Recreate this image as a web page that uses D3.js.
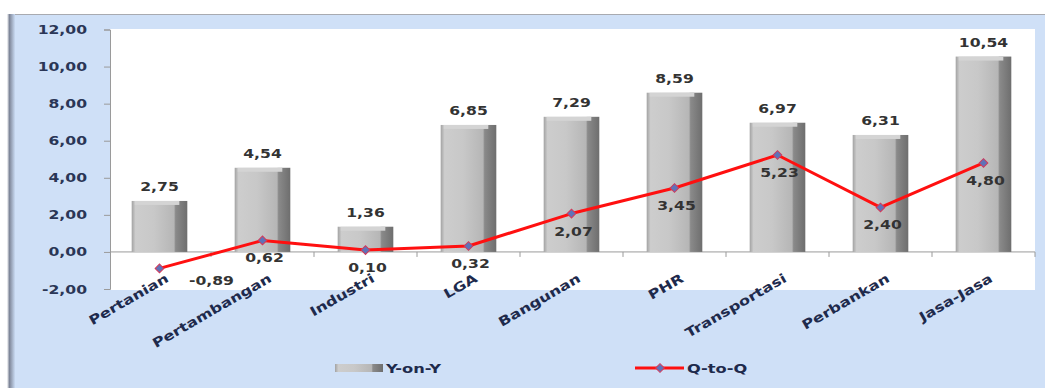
<!DOCTYPE html>
<html>
<head>
<meta charset="utf-8">
<script src="https://cdn.jsdelivr.net/npm/d3@7"></script>
<style>
  body { margin: 0; background: #fff; }
  text { font-family: "DejaVu Sans", sans-serif; font-weight: bold; }
</style>
</head>
<body>
<svg width="1045" height="388"></svg>
<script>
// data
const categories = ["Pertanian", "Pertambangan", "Industri", "LGA", "Bangunan", "PHR", "Transportasi", "Perbankan", "Jasa-Jasa"];
const yoy = [2.75, 4.54, 1.36, 6.85, 7.29, 8.59, 6.97, 6.31, 10.54];
const qtq = [-0.89, 0.62, 0.10, 0.32, 2.07, 3.45, 5.23, 2.40, 4.80];
const yTicks = [-2, 0, 2, 4, 6, 8, 10, 12];
const seriesNames = ["Y-on-Y", "Q-to-Q"];

const svg = d3.select("svg");
// koma desimal dan tanda minus biasa seperti di Excel
const fmt = v => d3.format(".2f")(v).replace(".", ",").replace("\u2212", "-");
const SX = 1.25; // teks di gambar asli terlihat melebar

// gradien
const defs = svg.append("defs");
const bg = defs.append("linearGradient").attr("id", "barGrad");
[[0, "#a2a2a2"], [0.07, "#cdcdcd"], [0.4, "#c8c8c8"], [0.76, "#b6b6b6"], [0.79, "#8a8a8a"], [1, "#6e6e6e"]]
  .forEach(([o, c]) => bg.append("stop").attr("offset", o).attr("stop-color", c));
const edge = defs.append("linearGradient").attr("id", "edgeGrad");
[[0, "#ffffff"], [0.3, "#7d8597"], [1, "#c9daf2"]]
  .forEach(([o, c]) => edge.append("stop").attr("offset", o).attr("stop-color", c));

// bingkai
svg.append("rect").attr("x", 9).attr("y", 14).attr("width", 1036).attr("height", 374).attr("fill", "#cfe0f7");
svg.append("line").attr("x1", 9).attr("x2", 1045).attr("y1", 14.5).attr("y2", 14.5).attr("stroke", "#a8aab0");
svg.append("rect").attr("x", 7).attr("y", 14).attr("width", 8).attr("height", 374).attr("fill", "url(#edgeGrad)");

const x = d3.scaleBand().domain(categories).range([108, 1035]);
const y = d3.scaleLinear().domain([-2, 12]).range([289, 29.5]);

// area plot
svg.append("rect").attr("x", 110).attr("y", 29).attr("width", 925).attr("height", 261).attr("fill", "#fff");

// sumbu y
const yAxis = svg.append("g").attr("transform", "translate(110,0)")
  .call(d3.axisLeft(y).tickValues(yTicks).tickSize(6).tickPadding(8).tickFormat(fmt));
yAxis.select(".domain").attr("stroke", "#9a9a9a");
yAxis.selectAll(".tick line").attr("stroke", "#9a9a9a");
yAxis.selectAll(".tick text").attr("font-size", 12.5).attr("fill", "#2a3656")
  .attr("transform", `translate(-8,0) scale(${SX},1)`).attr("x", -12);

// sumbu x di nol
svg.append("line").attr("x1", 110).attr("x2", 1035).attr("y1", y(0)).attr("y2", y(0)).attr("stroke", "#9a9a9a");
svg.selectAll(".xtick").data(categories)
  .join("line")
  .attr("x1", d => x(d) + x.bandwidth())
  .attr("x2", d => x(d) + x.bandwidth())
  .attr("y1", y(0)).attr("y2", y(0) + 5).attr("stroke", "#9a9a9a");

// batang
const bw = x.bandwidth() * 0.54;
const bars = svg.append("g");
categories.forEach((c, i) => {
  const cx = x(c) + x.bandwidth() / 2;
  bars.append("rect").attr("x", cx - bw / 2).attr("y", y(yoy[i]))
    .attr("width", bw).attr("height", y(0) - y(yoy[i])).attr("fill", "url(#barGrad)");
  bars.append("rect").attr("x", cx - bw / 2 + 3).attr("y", y(yoy[i]))
    .attr("width", bw - 11).attr("height", 4).attr("fill", "#d4d4d4");
  bars.append("text").attr("transform", `translate(${cx},${y(yoy[i]) - 10}) scale(${SX},1)`)
    .attr("text-anchor", "middle").attr("font-size", 12.5).attr("fill", "#333")
    .text(fmt(yoy[i]));
});

// label kategori
svg.selectAll(".cat").data(categories).join("text")
  .attr("transform", d => `translate(${x(d) + x.bandwidth() / 2 + 10},${y(0) + 29}) rotate(-30) scale(${SX},1)`)
  .attr("text-anchor", "end").attr("font-size", 13).attr("fill", "#1e2a4c")
  .text(d => d);

// garis Q-to-Q
const pts = categories.map((c, i) => [x(c) + x.bandwidth() / 2, y(qtq[i])]);
svg.append("path").attr("d", d3.line()(pts)).attr("fill", "none")
  .attr("stroke", "#ff1010").attr("stroke-width", 3).attr("stroke-linejoin", "round");
const marker = d3.symbol(d3.symbolSquare, 38);
svg.selectAll(".mk").data(pts).join("path")
  .attr("transform", d => `translate(${d[0]},${d[1]}) rotate(45)`)
  .attr("d", marker)
  .attr("fill", "#5f72b8").attr("stroke", "#d23a5a").attr("stroke-width", 1);
svg.selectAll(".ql").data(qtq).join("text")
  .attr("transform", (d, i) => d < 0
    ? `translate(${pts[i][0] + 52},${pts[i][1] + 17}) scale(${SX},1)`
    : `translate(${pts[i][0] + 2},${pts[i][1] + 22}) scale(${SX},1)`)
  .attr("text-anchor", "middle").attr("font-size", 12.5).attr("fill", "#333")
  .text(d => fmt(d));

// legenda
svg.append("rect").attr("x", 335).attr("y", 364).attr("width", 48).attr("height", 8).attr("fill", "url(#barGrad)");
svg.append("text").attr("transform", `translate(386,373) scale(${SX},1)`)
  .attr("font-size", 13).attr("fill", "#1e2a4c").text(seriesNames[0]);
svg.append("line").attr("x1", 635).attr("x2", 684).attr("y1", 368).attr("y2", 368)
  .attr("stroke", "#ff1010").attr("stroke-width", 3);
svg.append("path").attr("transform", "translate(660,368) rotate(45)").attr("d", marker)
  .attr("fill", "#5f72b8").attr("stroke", "#d23a5a");
svg.append("text").attr("transform", `translate(687,373) scale(${SX},1)`)
  .attr("font-size", 13).attr("fill", "#1e2a4c").text(seriesNames[1]);
</script>
</body>
</html>
